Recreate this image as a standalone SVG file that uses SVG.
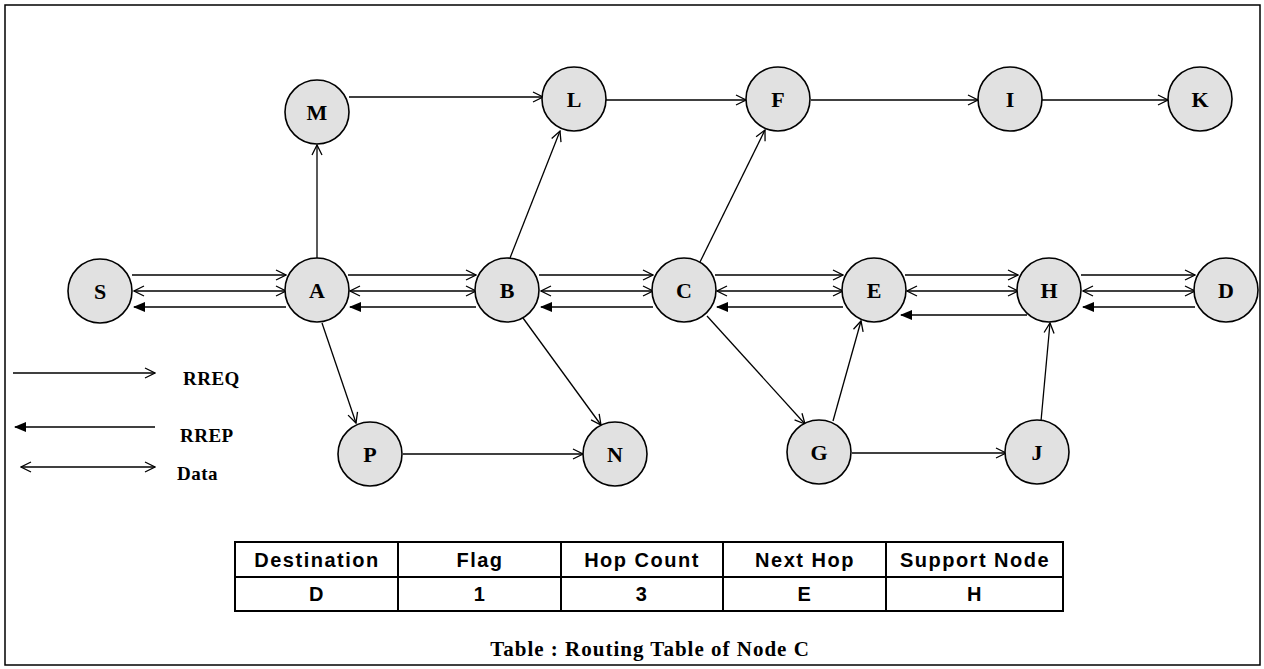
<svg xmlns="http://www.w3.org/2000/svg" width="1264" height="669" viewBox="0 0 1264 669">
  <defs>
    <style>
      .node circle { fill: #e1e1e1; stroke: #000; stroke-width: 1.6; }
      .node text { font-family: "Liberation Serif", "Times New Roman", serif; font-weight: bold; font-size: 22px; text-anchor: middle; fill: #000; }
      .edges line { stroke: #000; stroke-width: 1.3; fill: none; }
      .req { marker-end: url(#open); }
      .data { marker-start: url(#openStart); marker-end: url(#open); }
      .rep { marker-end: url(#solid); }
      .legend text { font-family: "Liberation Serif", "Times New Roman", serif; font-weight: bold; font-size: 19px; letter-spacing: 0.5px; fill: #000; }
      .tbl line, .tbl rect { stroke: #000; stroke-width: 2; fill: none; }
      .tbl text { font-family: "Liberation Sans", Arial, sans-serif; font-weight: bold; font-size: 20px; letter-spacing: 1.5px; text-anchor: middle; fill: #000; }
      .caption { font-family: "Liberation Serif", "Times New Roman", serif; font-weight: bold; font-size: 21px; letter-spacing: 1px; text-anchor: middle; fill: #000; }
    </style>
    <marker id="open" viewBox="0 0 12 12" refX="11" refY="6" markerWidth="12" markerHeight="12" markerUnits="userSpaceOnUse" orient="auto">
      <path d="M1,1 L11,6 L1,11" fill="none" stroke="#000" stroke-width="1.3"/>
    </marker>
    <marker id="openStart" viewBox="0 0 12 12" refX="1" refY="6" markerWidth="12" markerHeight="12" markerUnits="userSpaceOnUse" orient="auto">
      <path d="M11,1 L1,6 L11,11" fill="none" stroke="#000" stroke-width="1.3"/>
    </marker>
    <marker id="solid" viewBox="0 0 12 12" refX="11" refY="6" markerWidth="12" markerHeight="12" markerUnits="userSpaceOnUse" orient="auto">
      <path d="M0,1 L12,6 L0,11 Z" fill="#000"/>
    </marker>
  </defs>

  <rect x="0" y="0" width="1264" height="669" fill="#fff"/>
  <!-- outer frame -->
  <rect x="5" y="5" width="1255" height="660" fill="none" stroke="#000" stroke-width="1.5"/>

  <!-- connectors -->
  <g class="edges">
    <!-- main path: RREQ (top), Data (middle), RREP (bottom) -->
    <line class="req" x1="132" y1="275" x2="286" y2="275"/>
    <line class="data" x1="134" y1="291" x2="286" y2="291"/>
    <line class="rep" x1="286" y1="307" x2="134" y2="307"/>

    <line class="req" x1="348" y1="275" x2="476" y2="275"/>
    <line class="data" x1="350" y1="291" x2="476" y2="291"/>
    <line class="rep" x1="476" y1="307" x2="350" y2="307"/>

    <line class="req" x1="539" y1="275" x2="653" y2="275"/>
    <line class="data" x1="541" y1="291" x2="653" y2="291"/>
    <line class="rep" x1="653" y1="307" x2="541" y2="307"/>

    <line class="req" x1="715" y1="275" x2="843" y2="275"/>
    <line class="data" x1="717" y1="291" x2="843" y2="291"/>
    <line class="rep" x1="843" y1="307" x2="717" y2="307"/>

    <line class="req" x1="905" y1="275" x2="1018" y2="275"/>
    <line class="data" x1="907" y1="291" x2="1018" y2="291"/>
    <line class="rep" x1="1027" y1="315" x2="901" y2="315"/>

    <line class="req" x1="1081" y1="275" x2="1195" y2="275"/>
    <line class="data" x1="1083" y1="291" x2="1195" y2="291"/>
    <line class="rep" x1="1195" y1="307" x2="1083" y2="307"/>

    <!-- upper branch -->
    <line class="req" x1="317" y1="258" x2="317" y2="145"/>
    <line class="req" x1="349" y1="97" x2="543" y2="97"/>
    <line class="req" x1="510" y1="258" x2="560" y2="131"/>
    <line class="req" x1="606" y1="100" x2="746" y2="100"/>
    <line class="req" x1="700" y1="262" x2="765" y2="130"/>
    <line class="req" x1="811" y1="100" x2="978" y2="100"/>
    <line class="req" x1="1042" y1="100" x2="1168" y2="100"/>

    <!-- lower branch -->
    <line class="req" x1="322" y1="323" x2="356" y2="423"/>
    <line class="req" x1="403" y1="454" x2="583" y2="454"/>
    <line class="req" x1="523" y1="318" x2="601" y2="425"/>
    <line class="req" x1="707" y1="316" x2="805" y2="424"/>
    <line class="req" x1="852" y1="453" x2="1006" y2="453"/>
    <line class="req" x1="833" y1="421" x2="861" y2="321"/>
    <line class="req" x1="1041" y1="421" x2="1050" y2="323"/>
  </g>

  <!-- nodes -->
  <g id="node-S" class="node"><circle cx="100" cy="291" r="32"/><text x="100" y="299">S</text></g>
  <g id="node-A" class="node"><circle cx="317" cy="290" r="32"/><text x="317" y="298">A</text></g>
  <g id="node-B" class="node"><circle cx="507" cy="290" r="32"/><text x="507" y="298">B</text></g>
  <g id="node-C" class="node"><circle cx="684" cy="290" r="32"/><text x="684" y="298">C</text></g>
  <g id="node-E" class="node"><circle cx="874" cy="290" r="32"/><text x="874" y="298">E</text></g>
  <g id="node-H" class="node"><circle cx="1049" cy="290" r="32"/><text x="1049" y="298">H</text></g>
  <g id="node-D" class="node"><circle cx="1226" cy="290" r="32"/><text x="1226" y="298">D</text></g>
  <g id="node-M" class="node"><circle cx="317" cy="112" r="32"/><text x="317" y="120">M</text></g>
  <g id="node-L" class="node"><circle cx="574" cy="99" r="32"/><text x="574" y="107">L</text></g>
  <g id="node-F" class="node"><circle cx="778" cy="99" r="32"/><text x="778" y="107">F</text></g>
  <g id="node-I" class="node"><circle cx="1010" cy="99" r="32"/><text x="1010" y="107">I</text></g>
  <g id="node-K" class="node"><circle cx="1200" cy="99" r="32"/><text x="1200" y="107">K</text></g>
  <g id="node-P" class="node"><circle cx="370" cy="454" r="32"/><text x="370" y="462">P</text></g>
  <g id="node-N" class="node"><circle cx="615" cy="454" r="32"/><text x="615" y="462">N</text></g>
  <g id="node-G" class="node"><circle cx="819" cy="452" r="32"/><text x="819" y="460">G</text></g>
  <g id="node-J" class="node"><circle cx="1037" cy="452" r="32"/><text x="1037" y="460">J</text></g>

  <!-- legend -->
  <g id="legend" class="legend">
    <g class="edges">
      <line class="req" x1="13" y1="373" x2="155" y2="373"/>
      <line class="rep" x1="155" y1="427" x2="15" y2="427"/>
      <line class="data" x1="21" y1="467" x2="155" y2="467"/>
    </g>
    <text x="183" y="385">RREQ</text>
    <text x="180" y="442">RREP</text>
    <text x="177" y="480">Data</text>
  </g>

  <!-- routing table -->
  <g id="routing-table" class="tbl">
    <rect x="235" y="542" width="828" height="69"/>
    <line x1="235" y1="577" x2="1063" y2="577"/>
    <line x1="398" y1="542" x2="398" y2="611"/>
    <line x1="561" y1="542" x2="561" y2="611"/>
    <line x1="723" y1="542" x2="723" y2="611"/>
    <line x1="886" y1="542" x2="886" y2="611"/>
    <text x="317" y="567">Destination</text>
    <text x="480" y="567">Flag</text>
    <text x="642" y="567">Hop Count</text>
    <text x="805" y="567">Next Hop</text>
    <text x="975" y="567">Support Node</text>
    <text x="317" y="601">D</text>
    <text x="480" y="601">1</text>
    <text x="642" y="601">3</text>
    <text x="805" y="601">E</text>
    <text x="975" y="601">H</text>
  </g>
  <text id="caption" class="caption" x="650" y="656">Table : Routing Table of Node C</text>
</svg>
